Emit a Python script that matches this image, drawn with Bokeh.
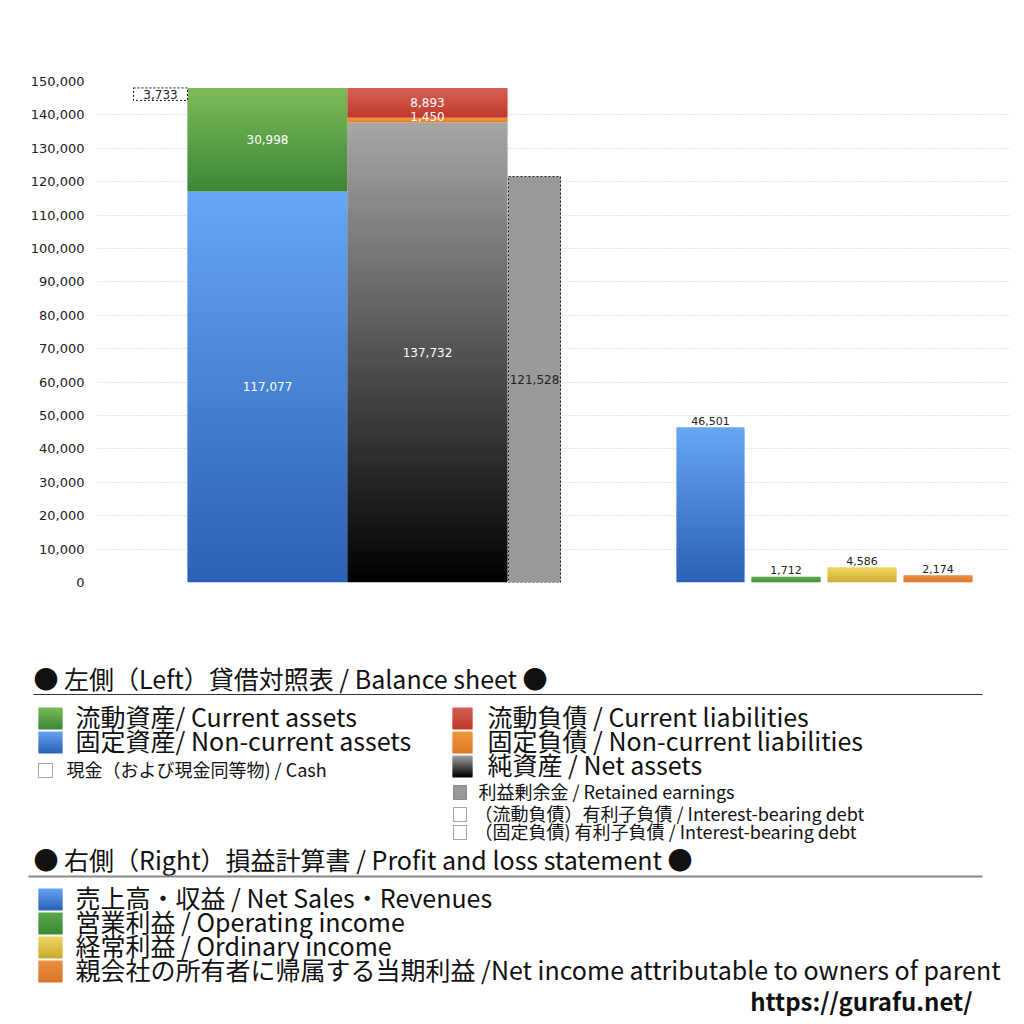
import numpy as np
from bokeh.plotting import figure
from bokeh.layouts import column
from bokeh.models import Range1d, FixedTicker, NumeralTickFormatter
from bokeh.core.properties import value
from bokeh.embed import file_html
from bokeh.resources import INLINE

# ---------------- data ----------------
bs_names = ["固定資産", "流動資産", "純資産", "固定負債", "流動負債", "利益剰余金", "現金"]
noncurrent_assets = 117077
current_assets = 30998
net_assets = 137732
noncurrent_liabilities = 1450
current_liabilities = 8893
retained_earnings = 121528
cash = 3733

pl_names = ["売上高・収益", "営業利益", "経常利益", "当期利益"]
pl_values = [46501, 1712, 4586, 2174]

y_ticks = [0, 10000, 20000, 30000, 40000, 50000, 60000, 70000, 80000,
           90000, 100000, 110000, 120000, 130000, 140000, 150000]

FONT = "Noto Sans CJK JP"
NUMFONT = "DejaVu Sans"


def hex2rgb(h):
    h = h.lstrip("#")
    return np.array([int(h[i:i + 2], 16) for i in (0, 2, 4)], dtype=float)


def grad(p, left, right, ya, yb, ca, cb, n=40, overlap=0.0):
    """Fill a rectangle with colour ca at ya and cb at yb (stacked thin slices)."""
    ys = np.linspace(ya, yb, n + 1)
    a, b = hex2rgb(ca), hex2rgb(cb)
    cols = []
    for i in range(n):
        t = (i + 0.5) / n
        c = a + (b - a) * t
        cols.append("#%02x%02x%02x" % tuple(int(round(v)) for v in c))
    lo = np.minimum(ys[:-1], ys[1:])
    hi = np.maximum(ys[:-1], ys[1:])
    ylo, yhi = min(ya, yb), max(ya, yb)
    lo2 = np.maximum(lo - overlap, ylo)
    hi2 = np.minimum(hi + overlap, yhi)
    p.quad(left=[left] * n, right=[right] * n, bottom=lo2, top=hi2,
           fill_color=cols, line_color=None)


PX_PER_UNIT = 501 / 150000.0
OV = 0.6 / PX_PER_UNIT   # slice overlap, data units (about 0.6 px)


def nslices(h):
    return max(3, int(abs(h) * PX_PER_UNIT / 2.5))


def no_align(fig):
    if "frame_align" in fig.properties():
        fig.frame_align = False


# ---------------- chart ----------------
BL, BR = 97, 6
p = figure(width=1016, height=628, output_backend="svg", toolbar_location=None,
           x_range=Range1d(97, 1010), y_range=Range1d(0, 150000),
           min_border_left=BL, min_border_right=BR, min_border_top=81,
           min_border_bottom=46)
no_align(p)
p.outline_line_color = None
p.xaxis.visible = False
p.xgrid.grid_line_color = None
p.ygrid.grid_line_color = "#c8c8c8"
p.ygrid.grid_line_dash = "1 2"
p.yaxis.ticker = FixedTicker(ticks=y_ticks)
p.yaxis.formatter = NumeralTickFormatter(format="0,0")
p.yaxis.axis_line_color = None
p.yaxis.major_tick_line_color = None
p.yaxis.minor_tick_line_color = None
p.yaxis.major_label_standoff = 7
p.yaxis.major_label_text_font = NUMFONT
p.yaxis.major_label_text_font_size = "13px"
p.yaxis.major_label_text_color = "#222222"

# slot layout (x range in page-like units)
ASSET_L, ASSET_R = 187, 347
LIAB_L, LIAB_R = 347, 507
RET_L, RET_R = 508, 560
CASH_L, CASH_R = 133, 187
pl_slots = [(676, 744), (751, 820), (827, 896), (903, 972)]

# assets column
total_assets = noncurrent_assets + current_assets
grad(p, ASSET_L, ASSET_R, 0, noncurrent_assets, "#2b60b6", "#66a6f2",
     nslices(noncurrent_assets), OV)
grad(p, ASSET_L, ASSET_R, noncurrent_assets, total_assets, "#3b8637", "#7dbb58",
     nslices(current_assets), OV)

# liabilities / net assets column
grad(p, LIAB_L, LIAB_R, 0, net_assets, "#000000", "#a6a6a6", nslices(net_assets), OV)
grad(p, LIAB_L, LIAB_R, net_assets, net_assets + noncurrent_liabilities,
     "#e0782a", "#ee9a3a", 3, OV)
top_liab = net_assets + noncurrent_liabilities + current_liabilities
grad(p, LIAB_L, LIAB_R, net_assets + noncurrent_liabilities, top_liab, "#c0392a", "#d65f55",
     nslices(current_liabilities), OV)

# retained earnings
p.quad(left=[RET_L], right=[RET_R], bottom=[0], top=[retained_earnings],
       fill_color="#999999", line_color="#111111", line_dash="2 2", line_width=1)

# cash box (hanging from the top of total assets)
p.quad(left=[CASH_L], right=[CASH_R], bottom=[total_assets - cash], top=[total_assets],
       fill_color="white", line_color="#111111", line_dash="2 2", line_width=1)

# P&L bars
pl_colors = [("#2b60b6", "#66a6f2"), ("#3d8a36", "#5aa84a"),
             ("#c9a830", "#f0d860"), ("#d9742a", "#ec9040")]
for (l, r), v, (cb, ct) in zip(pl_slots, pl_values, pl_colors):
    grad(p, l, r, 0, v, cb, ct, nslices(v), OV)

# labels in bars (white)
in_x = [(ASSET_L + ASSET_R) / 2, (ASSET_L + ASSET_R) / 2, (LIAB_L + LIAB_R) / 2,
        (LIAB_L + LIAB_R) / 2, (LIAB_L + LIAB_R) / 2]
in_y = [noncurrent_assets / 2, noncurrent_assets + current_assets / 2, net_assets / 2,
        net_assets + noncurrent_liabilities / 2 + 1200,
        net_assets + noncurrent_liabilities + current_liabilities / 2]
in_v = [noncurrent_assets, current_assets, net_assets, noncurrent_liabilities, current_liabilities]
p.text(x=in_x, y=in_y, text=[f"{v:,}" for v in in_v], text_color="white",
       text_font=value(NUMFONT), text_font_size="12px", text_align="center",
       text_baseline="middle")

# retained & cash labels (dark)
p.text(x=[(RET_L + RET_R) / 2, (CASH_L + CASH_R) / 2],
       y=[retained_earnings / 2, total_assets - cash / 2],
       text=[f"{retained_earnings:,}", f"{cash:,}"], text_color="#222222",
       text_font=value(NUMFONT), text_font_size="12px", text_align="center",
       text_baseline="middle")

# P&L labels above bars
p.text(x=[(l + r) / 2 for l, r in pl_slots], y=[v + 800 for v in pl_values],
       text=[f"{v:,}" for v in pl_values], text_color="#222222",
       text_font=value(NUMFONT), text_font_size="11px", text_align="center",
       text_baseline="bottom")

# ---------------- legend panel ----------------
q = figure(width=1016, height=390, output_backend="svg", toolbar_location=None,
           x_range=Range1d(0, 1016), y_range=Range1d(1018, 628),
           min_border=0, min_border_left=0, min_border_right=0,
           min_border_top=0, min_border_bottom=0)
no_align(q)
q.axis.visible = False
q.grid.grid_line_color = None
q.outline_line_color = None

DY = -2


def txt(x, y, s, size, color="#111111", align="left", style="normal"):
    q.text(x=[x], y=[y + DY], text=[s], text_font=value(FONT), text_font_size=size,
           text_color=color, text_align=align, text_baseline="middle",
           text_font_style=style)


def dotted_box(l, r, t, b, fill):
    q.quad(left=[l], right=[r], top=[t], bottom=[b], fill_color=fill,
           line_color="#222222", line_dash="1 1", line_width=0.8)


BIG = "25px"
SMALL = "18px"

txt(33, 679, "● 左側（Left）貸借対照表 / Balance sheet ●", BIG)
q.segment(x0=[33], y0=[694], x1=[982], y1=[694], line_color="#333333", line_width=1.2)

# left column
grad(q, 38, 62, 707, 729, "#7dbb58", "#3b8637", n=12, overlap=0.6)
txt(75, 717, "流動資産/ Current assets", BIG)
grad(q, 38, 62, 731, 753, "#66a6f2", "#2b60b6", n=12, overlap=0.6)
txt(75, 741, "固定資産/ Non-current assets", BIG)
dotted_box(38, 52, 763, 777, "white")
txt(66, 770, "現金（および現金同等物) / Cash", SMALL)

# right column
grad(q, 452, 472, 707, 729, "#d65f55", "#c0392a", n=12, overlap=0.6)
txt(487, 717, "流動負債 /  Current liabilities", BIG)
grad(q, 452, 472, 731, 753, "#ee9a3a", "#e0782a", n=12, overlap=0.6)
txt(487, 741, "固定負債 / Non-current liabilities", BIG)
grad(q, 452, 472, 755, 777, "#a6a6a6", "#000000", n=12, overlap=0.6)
txt(487, 765, "純資産 / Net assets", BIG)
dotted_box(453, 466, 785, 799, "#999999")
txt(478, 792, "利益剰余金 / Retained earnings", SMALL)
dotted_box(453, 466, 807, 821, "white")
txt(474, 814, "（流動負債）有利子負債 / Interest-bearing debt", SMALL)
dotted_box(453, 466, 825, 839, "white")
txt(474, 832, "（固定負債) 有利子負債 / Interest-bearing debt", SMALL)

# P&L legend
txt(33, 860, "● 右側（Right）損益計算書 / Profit and loss statement ●", BIG)
q.segment(x0=[28], y0=[876], x1=[982], y1=[876], line_color="#888888", line_width=2)

pl_texts = ["売上高・収益 / Net Sales・Revenues", "営業利益 / Operating income",
            "経常利益 / Ordinary income",
            "親会社の所有者に帰属する当期利益 /Net income attributable to owners of parent"]
for i, (s, (cb, ct)) in enumerate(zip(pl_texts, pl_colors)):
    yc = 899 + 24 * i
    grad(q, 38, 62, yc - 11, yc + 11, ct, cb, n=12, overlap=0.6)
    txt(75, yc - 1, s, BIG)

txt(972, 1002, "https://gurafu.net/", "24px", align="right", style="bold")

layout = column(p, column(q))
open("out.html", "w").write(file_html(layout, INLINE))
